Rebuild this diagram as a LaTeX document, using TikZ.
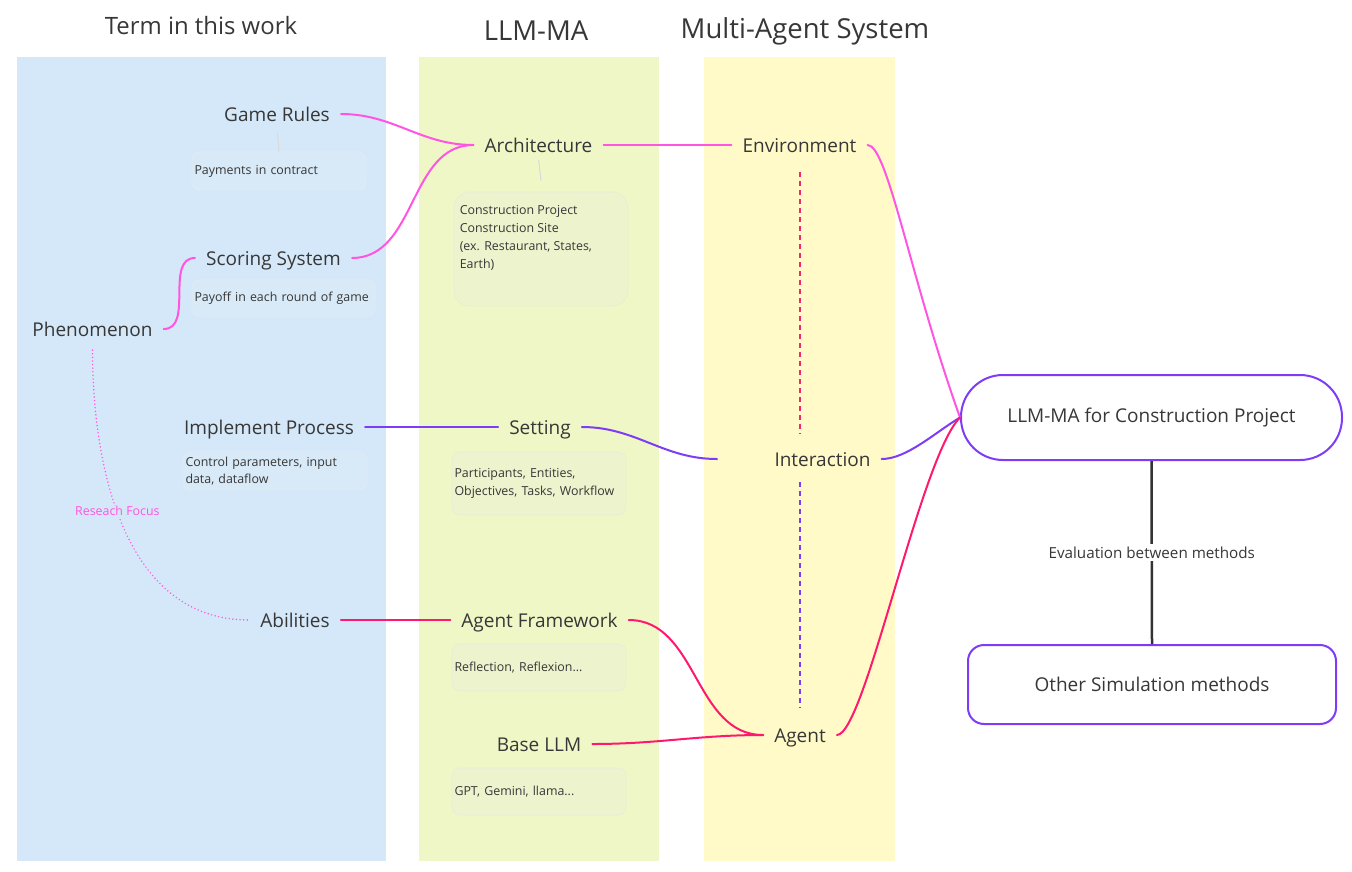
\documentclass[tikz,border=0pt]{standalone}
\usepackage{fontspec}
\setmainfont{Open Sans}
\definecolor{bandblue}{RGB}{213,232,249}
\definecolor{bandgreen}{RGB}{239,247,198}
\definecolor{bandyellow}{RGB}{255,250,200}
\definecolor{boxblue}{RGB}{216,233,247}
\definecolor{boxgreen}{RGB}{237,244,205}
\definecolor{edgeblue}{RGB}{226,235,245}
\definecolor{edgegreen}{RGB}{230,238,214}
\definecolor{mag}{RGB}{255,85,225}
\definecolor{pur}{RGB}{125,60,245}
\definecolor{crim}{RGB}{255,25,110}
\definecolor{dashred}{RGB}{240,40,110}
\definecolor{txt}{RGB}{55,55,55}
\tikzset{
  ttl/.style={text=txt, inner sep=0pt},
  lbl/.style={font=\fontsize{19}{22}\selectfont, text=txt, inner xsep=11pt, inner ysep=6pt, text height=14pt, text depth=0pt},
  small/.style={font=\fontsize{12.4}{17.8}\selectfont, text=txt},
  dbox/.style={small, rounded corners=8pt, line width=0.8pt, inner xsep=2.5pt, align=left},
  bluebox/.style={dbox, fill=boxblue, draw=edgeblue},
  greenbox/.style={dbox, fill=boxgreen, draw=edgegreen},
  link/.style={line width=2pt, line cap=round},
  faint/.style={draw=gray!30, line width=1pt},
  bigbox/.style={draw=pur, line width=2pt, fill=white, font=\fontsize{19}{22}\selectfont, text=txt}
}
\begin{document}
\begin{tikzpicture}[x=1pt,y=-1pt]
\useasboundingbox (0,0) rectangle (1352,871);
% bands
\fill[bandblue] (17,57) rectangle (386,861);
\fill[bandgreen] (419,57) rectangle (659,861);
\fill[bandyellow] (704,57) rectangle (895,861);
% titles
\node[ttl, font=\fontsize{23.9}{27}\selectfont] (t1) at (201,26) {Term in this work};
\node[ttl, font=\fontsize{27.5}{31}\selectfont] (t2) at (536,31) {LLM-MA};
\node[ttl, font=\fontsize{27.5}{31}\selectfont] (t3) at (805,31) {Multi-Agent System};
% left column
\node[lbl] (gr) at (277,114) {Game Rules};
\node[bluebox, minimum width=174pt, minimum height=38pt, text width=169pt] (pay) at (279,171) {Payments in contract};
\node[lbl] (ss) at (273.5,258) {Scoring System};
\node[bluebox, minimum width=183pt, minimum height=36pt, text width=178pt] (payoff) at (283.5,298) {Payoff in each round of game};
\node[lbl] (ph) at (92.5,329) {Phenomenon};
\node[lbl] (ip) at (269,427) {Implement Process};
\node[bluebox, minimum width=184pt, minimum height=38pt, text width=179pt] (ctrl) at (275,471) {Control parameters, input\\data, dataflow};
\node[lbl] (ab) at (295,620) {Abilities};
% middle column
\node[lbl] (arch) at (538.5,145) {Architecture};
\node[greenbox, rounded corners=16pt, minimum width=174pt, minimum height=114pt] (cbox) at (541,249) {};
\node[small, anchor=north west, align=left, inner sep=0pt] (ctext) at ([shift={(6,14)}]cbox.north west) {Construction Project\\Construction Site\\(ex. Restaurant, States,\\Earth)};
\node[lbl] (set) at (540,427) {Setting};
\node[greenbox, minimum width=174pt, minimum height=63pt, text width=169pt] (part) at (539,483.5) {Participants, Entities,\\Objectives, Tasks, Workflow};
\node[lbl] (af) at (539.5,620) {Agent Framework};
\node[greenbox, minimum width=174pt, minimum height=47pt, text width=169pt] (refl) at (539,667.5) {Reflection, Reflexion...};
\node[lbl] (bl) at (539,744) {Base LLM};
\node[greenbox, minimum width=174pt, minimum height=47pt, text width=169pt] (gpt) at (539,791.5) {GPT, Gemini, llama...};
% right column
\node[lbl] (env) at (799.5,145) {Environment};
\node[lbl] (int) at (822.5,459) {Interaction};
\coordinate (intin) at (717,459);
\node[lbl] (ag) at (800,735) {Agent};
% result boxes
\node[bigbox, rounded corners=42pt, minimum width=381pt, minimum height=85pt] (llm) at (1151.5,417.5) {LLM-MA for Construction Project};
\node[bigbox, rounded corners=16pt, minimum width=368pt, minimum height=79pt] (other) at (1152,684.5) {Other Simulation methods};
% faint detail links
\draw[faint, shorten <=6pt] (gr.south) -- (pay.north);
\draw[faint, shorten <=2pt] (arch.south) -- ([yshift=11pt]cbox.north);
% magenta links
\draw[link, mag] (gr.east) to[out=0,in=180] (arch.west);
\draw[link, mag] (ss.east) to[out=0,in=180] (arch.west);
\draw[link, mag] (ph.east) to[out=0,in=180] (ss.west);
\draw[link, mag] (arch.east) -- (env.west);
\draw[link, mag] (env.east) .. controls +(20,0) and +(-50,-140) .. (llm.west);
% purple links
\draw[link, pur] (ip.east) -- (set.west);
\draw[link, pur] (set.east) to[out=0,in=180] (intin);
\draw[link, pur] (int.east) .. controls +(25,0) and +(-25,15) .. (llm.west);
% crimson links
\draw[link, crim] (ab.east) -- (af.west);
\draw[link, crim] (af.east) to[out=0,in=180] (ag.west);
\draw[link, crim] (bl.east) to[out=0,in=180] (ag.west);
\draw[link, crim] (ag.east) .. controls +(28,0) and +(-40,40) .. (llm.west);
% dashed verticals
\draw[dashred, line width=2pt, dash pattern=on 4.5pt off 4.5pt, shorten <=14pt, shorten >=12pt] (env.south) -- (env.south |- int.north);
\draw[pur, line width=1.8pt, dash pattern=on 4.5pt off 4.5pt, shorten <=10pt, shorten >=14pt] (ag.north |- int.south) -- (ag.north);
% research focus
\draw[mag, line width=1.6pt, line cap=round, dash pattern=on 0pt off 3.6pt, shorten <=8pt] (ph.south) to[out=-90,in=180] node[pos=0.45, fill=bandblue, inner sep=1pt, font=\fontsize{12.4}{14}\selectfont, text=mag] (rf) {Reseach Focus} (ab.west);
% evaluation
\draw[line width=2.5pt, black!80] (llm.south) -- node[fill=white, inner sep=3pt, font=\fontsize{15.2}{17}\selectfont, text=txt] (ev) {Evaluation between methods} (other.north);
\end{tikzpicture}
\end{document}
